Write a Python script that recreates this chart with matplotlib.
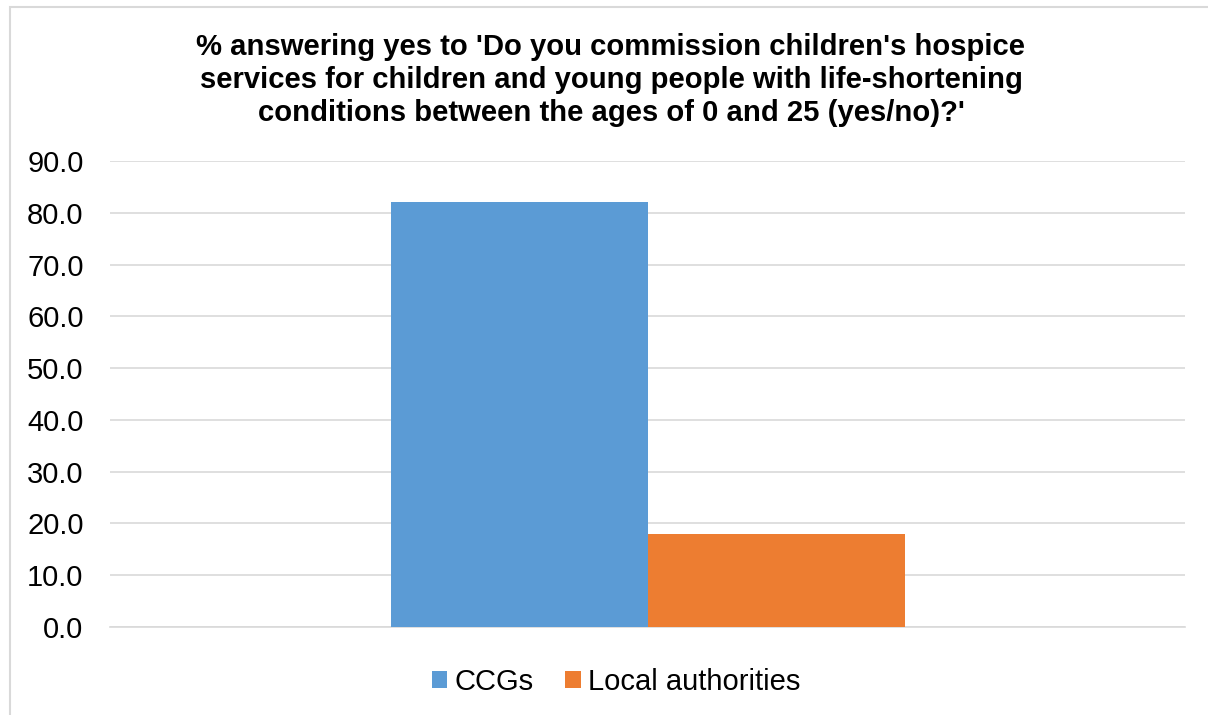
import matplotlib
matplotlib.use("Agg")
import matplotlib.pyplot as plt
from matplotlib.patches import Rectangle

categories = [""]
series_names = ["CCGs", "Local authorities"]
ccgs = [82.1]
local_authorities = [17.9]
yticks = [0, 10, 20, 30, 40, 50, 60, 70, 80, 90]
title = ("% answering yes to 'Do you commission children's hospice\n"
         "services for children and young people with life-shortening\n"
         "conditions between the ages of 0 and 25 (yes/no)?'")

colors = ["#5B9BD5", "#ED7D31"]

plt.rcParams['font.family'] = ['Liberation Sans', 'DejaVu Sans']

W, H = 1208, 715
fig = plt.figure(figsize=(W / 100, H / 100), dpi=100)
ax = fig.add_axes([110 / W, (H - 627) / H, (1185 - 110) / W, (627 - 161) / H])

width = 257 / 1075
x = [0]
ax.bar([v - width / 2 for v in x], ccgs, width=width, color=colors[0], label=series_names[0], zorder=3)
ax.bar([v + width / 2 for v in x], local_authorities, width=width, color=colors[1], label=series_names[1], zorder=3)

ax.set_xlim(-0.5, 0.5)
ax.set_ylim(0, 90)
ax.set_yticks(yticks)
ax.set_yticklabels([f"{t:.1f}" for t in yticks], fontsize=21)
ax.set_xticks([])
ax.grid(axis='y', color='#D9D9D9', linewidth=1.2, zorder=0)
for s in ['top', 'right', 'left']:
    ax.spines[s].set_visible(False)
ax.spines['bottom'].set_color('#D9D9D9')
ax.spines['bottom'].set_linewidth(1.2)
ax.tick_params(axis='y', length=0, pad=19, colors='black')

fig.text(611 / W, (H - 80) / H, title, ha='center', va='center', fontsize=21.1,
         fontweight='bold', linespacing=1.22)

fig.legend(loc='center', bbox_to_anchor=(616 / W, (H - 682) / H), ncol=2, frameon=False,
           fontsize=21, handlelength=0.52, handleheight=0.52, handletextpad=0.25,
           columnspacing=1.1)

fig.patches.append(Rectangle((10 / W, -10 / H), (W + 20) / W, (H + 3) / H,
                             transform=fig.transFigure, fill=False,
                             edgecolor='#D9D9D9', linewidth=1.5))

fig.savefig("out.png", dpi=100)
